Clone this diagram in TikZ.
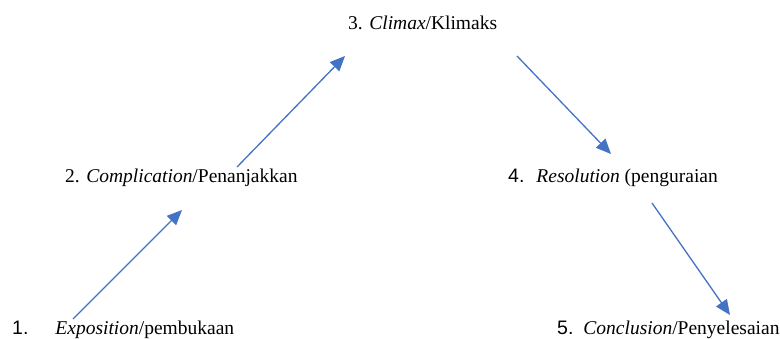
\documentclass[tikz,border=0pt]{standalone}
\usepackage{fontspec}
\setmainfont{Liberation Serif}
\newfontfamily\numfont{Liberation Sans}
\usetikzlibrary{arrows.meta}
\definecolor{arrowblue}{HTML}{4472C4}
\begin{document}
\begin{tikzpicture}[x=1pt,y=-1pt,
  lbl/.style={anchor=base west,inner sep=0pt,font=\fontsize{19.5}{23}\selectfont},
  flow/.style={draw=arrowblue,line width=1.3pt,-{Triangle[length=15pt,width=13pt,fill=arrowblue]}}]
\useasboundingbox (0,0) rectangle (780,338);
\node[lbl] (climax) at (348,29) {3. \textit{Climax}/Klimaks};
\node[lbl] (compl) at (65,182) {2. \textit{Complication}/Penanjakkan};
\node[lbl] (resol) at (508,182) {{\numfont 4.}\hspace{12pt}\textit{Resolution} (penguraian};
\node[lbl] (expo) at (12,334) {{\numfont 1.}\hspace{27pt}\textit{Exposition}/pembukaan};
\node[lbl] (concl) at (557,334) {{\numfont 5.}\hspace{10pt}\textit{Conclusion}/Penyelesaian};
\coordinate (a1s) at (73,319);
\coordinate (a1e) at (182,210);
\coordinate (a2s) at (237,167);
\coordinate (a2e) at (345,56);
\coordinate (a3s) at (517,56);
\coordinate (a3e) at (611,154);
\coordinate (a4s) at (652,203);
\coordinate (a4e) at (730,315);
\draw[flow] (a1s) -- (a1e);
\draw[flow] (a2s) -- (a2e);
\draw[flow] (a3s) -- (a3e);
\draw[flow] (a4s) -- (a4e);
\end{tikzpicture}
\end{document}
